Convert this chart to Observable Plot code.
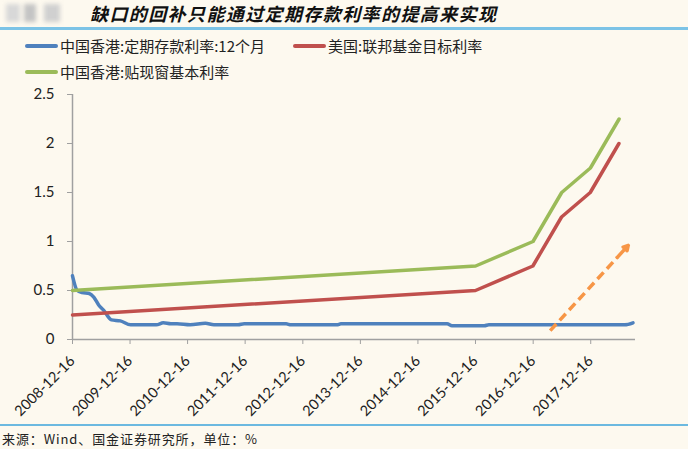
<!DOCTYPE html>
<html>
<head>
<meta charset="utf-8">
<script src="https://cdn.jsdelivr.net/npm/d3@7"></script>
<script src="https://cdn.jsdelivr.net/npm/@observablehq/plot@0.6"></script>
<style>
  html, body { margin:0; padding:0; background:#fdf9ef; width:688px; height:449px; overflow:hidden;
    font-family:"Noto Sans CJK SC", sans-serif; color:#222; }
  #logo { position:absolute; left:0; top:2px; width:72px; height:22px; filter:blur(2px); }
  #logo span { position:absolute; top:2px; height:18px; background:#cfcfcf; }
  #title { position:absolute; left:90px; top:0; height:27px; line-height:27px; font-size:18px;
    font-style:italic; font-weight:bold; letter-spacing:1.4px; color:#111; white-space:nowrap; }
  #topline { position:absolute; left:0; top:27px; width:688px; height:3px; background:#7cc3e6; }
  #legend { position:absolute; left:0; top:33px; width:688px; height:48px; font-size:15px; }
  .item { position:absolute; display:flex; align-items:center; white-space:nowrap; }
  .sw { width:33px; height:4px; border-radius:2px; margin-right:2px; }
  #chart { position:absolute; left:0; top:80px; }
  #botline { position:absolute; left:0; top:424px; width:688px; height:2px; background:#6cb9e0; }
  #source { position:absolute; left:2px; top:429px; font-size:13px; letter-spacing:0.9px; color:#222; white-space:nowrap; }
</style>
</head>
<body>
<div id="logo"><span style="left:6px;width:14px;background:#d8d8d8"></span><span style="left:24px;width:12px;background:#c4c4c4"></span><span style="left:44px;width:16px;background:#d0d0d0"></span></div>
<div id="title"></div>
<div id="topline"></div>
<div id="legend"></div>
<div id="chart"></div>
<div id="botline"></div>
<div id="source"></div>
<script>
// ---- text ----
const titleText = "缺口的回补只能通过定期存款利率的提高来实现";
const sourceText = "来源：Wind、国金证券研究所，单位：%";
const seriesNames = ["中国香港:定期存款利率:12个月", "美国:联邦基金目标利率", "中国香港:贴现窗基本利率"];
const seriesColors = ["#4f81bd", "#c0504d", "#9bbb59"];

// ---- data ----
const blueDates = ["2008-12-16","2009-01-15","2009-02-15","2009-04-01","2009-05-01","2009-06-01","2009-07-01",
  "2009-08-20","2009-10-15","2009-12-20","2010-06-01","2010-07-15","2010-09-01","2010-10-10","2011-01-01",
  "2011-04-08","2011-06-01","2011-11-01","2011-12-10","2012-09-01","2012-10-01","2013-07-20","2013-08-15",
  "2015-06-19","2015-07-20","2016-02-10","2016-03-10","2018-07-20","2018-09-10"];
const blueValues = [0.65,0.50,0.48,0.47,0.43,0.35,0.30,
  0.20,0.19,0.15,0.15,0.17,0.16,0.16,0.15,
  0.165,0.15,0.15,0.16,0.16,0.15,0.15,0.16,
  0.16,0.14,0.14,0.15,0.15,0.17];

const redDates = ["2008-12-16","2015-12-16","2016-12-14","2017-06-14","2017-12-13","2018-06-13"];
const redValues = [0.25,0.50,0.75,1.25,1.50,2.00];

const greenDates = ["2008-12-16","2015-12-17","2016-12-15","2017-06-15","2017-12-14","2018-06-14"];
const greenValues = [0.50,0.75,1.00,1.50,1.75,2.25];

const xTickLabels = ["2008-12-16","2009-12-16","2010-12-16","2011-12-16","2012-12-16",
  "2013-12-16","2014-12-16","2015-12-16","2016-12-16","2017-12-16"];
const yTicks = [0, 0.5, 1, 1.5, 2, 2.5];

// annotation arrow (dashed, orange)
const arrowFrom = {date:"2017-04-03", value:0.09};
const arrowTo = {date:"2018-08-11", value:0.96};

// ---- build ----
const parse = d3.utcParse("%Y-%m-%d");
document.getElementById("title").textContent = titleText;
document.getElementById("source").textContent = sourceText;

const legendPos = [{left:25, top:2}, {left:293, top:2}, {left:25, top:28}];
const legend = document.getElementById("legend");
seriesNames.forEach((n, i) => {
  const d = document.createElement("div");
  d.className = "item";
  d.style.left = legendPos[i].left + "px";
  d.style.top = legendPos[i].top + "px";
  d.innerHTML = `<div class="sw" style="background:${seriesColors[i]}"></div><span>${n}</span>`;
  legend.appendChild(d);
});

function toRows(dates, values, s) {
  return dates.map((d, i) => ({date: parse(d), value: values[i], series: s}));
}
const blue = toRows(blueDates, blueValues, seriesNames[0]);
const red = toRows(redDates, redValues, seriesNames[1]);
const green = toRows(greenDates, greenValues, seriesNames[2]);

const x0 = parse("2008-12-16"), x1 = parse("2018-09-26");
const a0 = {x: parse(arrowFrom.date), y: arrowFrom.value};
const a1 = {x: parse(arrowTo.date), y: arrowTo.value};
const t = 0.86;
const aMid = {x: new Date(+a0.x + (a1.x - a0.x) * t), y: a0.y + (a1.y - a0.y) * t};

const axisColor = "#a0a0a0";
const chart = Plot.plot({
  width: 688, height: 345,
  marginLeft: 72, marginRight: 53, marginTop: 14, marginBottom: 86,
  style: {background: "transparent", fontFamily: "Lato, 'Noto Sans CJK SC', sans-serif", color: "#222"},
  x: {type: "utc", domain: [x0, x1]},
  y: {domain: [0, 2.5]},
  marks: [
    Plot.axisY({ticks: yTicks, tickFormat: d => String(d), tickSize: 5, tickPadding: 13,
      fontSize: 15, stroke: axisColor, fill: "#222"}),
    Plot.axisX({ticks: xTickLabels.map(parse), tickFormat: d3.utcFormat("%Y-%m-%d"), tickRotate: -45,
      tickSize: 5, tickPadding: 14, fontSize: 14.5, stroke: axisColor, fill: "#222"}),
    Plot.ruleY([0], {stroke: axisColor, strokeWidth: 1.5}),
    Plot.ruleX([x0], {stroke: axisColor, strokeWidth: 1.5}),
    Plot.line(blue, {x: "date", y: "value", stroke: seriesColors[0], strokeWidth: 3.5, curve: "monotone-x"}),
    Plot.line(red, {x: "date", y: "value", stroke: seriesColors[1], strokeWidth: 3.5}),
    Plot.line(green, {x: "date", y: "value", stroke: seriesColors[2], strokeWidth: 3.5}),
    Plot.link([a0], {x1: "x", y1: "y", x2: () => aMid.x, y2: () => aMid.y,
      stroke: "#f79646", strokeWidth: 3.5, strokeDasharray: "9,5"}),
    Plot.arrow([aMid], {x1: "x", y1: "y", x2: () => a1.x, y2: () => a1.y,
      stroke: "#f79646", strokeWidth: 3.5, headLength: 14, bend: 0})
  ]
});
document.getElementById("chart").appendChild(chart);
</script>
</body>
</html>
